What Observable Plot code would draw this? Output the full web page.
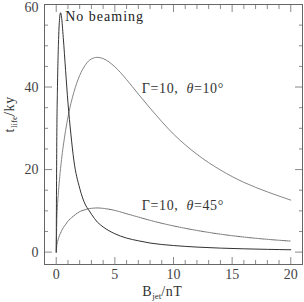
<!DOCTYPE html>
<html><head><meta charset="utf-8">
<script src="https://cdn.jsdelivr.net/npm/d3@7"></script>
<script src="https://cdn.jsdelivr.net/npm/@observablehq/plot@0.6"></script>
<style>body{margin:0;background:#fff} svg{display:block} svg, svg text, svg tspan {font-family: "Liberation Serif", "DejaVu Serif", serif !important;}</style>
</head><body><div id="chart"></div>
<script>
// Magnetic field B_jet (nT)
const B        = [0, 0.05, 0.1, 0.2, 0.3, 0.37, 0.45, 0.6, 0.8, 1.0, 1.25, 1.5, 2, 2.5, 2.75, 3, 3.5, 4, 5, 6, 7, 8, 10, 12, 14, 16, 18, 20];
// Lifetimes (ky)
const tNoBeam  = [0, 28, 39, 51.5, 57, 58, 57, 52, 44, 36.2, 28.6, 22.3, 15.5, 11.4, 10.3, 9.2, 7.3, 6.1, 4.45, 3.4, 2.75, 2.2, 1.6, 1.22, 0.97, 0.8, 0.67, 0.57];
const tTheta10 = [0, 7.5, 10.8, 15.0, 18.3, 20.3, 22.4, 25.7, 29.5, 32.7, 36.0, 38.7, 42.8, 45.4, 46.3, 46.8, 47.2, 46.9, 44.9, 41.8, 38.3, 34.9, 28.6, 23.7, 19.9, 16.9, 14.6, 12.6];
const tTheta45 = [0, 1.7, 2.4, 3.4, 4.2, 4.6, 5.1, 5.9, 6.7, 7.5, 8.2, 8.8, 9.8, 10.3, 10.5, 10.6, 10.7, 10.6, 10.1, 9.3, 8.5, 7.7, 6.35, 5.25, 4.35, 3.65, 3.1, 2.67];
const xMajor = [0, 5, 10, 15, 20];
const xMinor = [1, 2, 3, 4, 6, 7, 8, 9, 11, 12, 13, 14, 16, 17, 18, 19];
const yMajor = [0, 20, 40, 60];
const yMinor = [5, 10, 15, 25, 30, 35, 45, 50, 55];

const data = B.map((b, i) => ({b, t0: tNoBeam[i], t10: tTheta10[i], t45: tTheta45[i]}));
const ff = "'Liberation Serif', 'DejaVu Serif', serif";
const tickCol = "#8a8a8a";
const empty = () => "";

const plot = Plot.plot({
  width: 304, height: 302,
  marginLeft: 44, marginRight: 2, marginTop: 4, marginBottom: 38,
  x: {domain: [-1, 21]},
  y: {domain: [-3, 60]},
  style: {fontFamily: ff, fontSize: "14px", color: "#333", background: "#fff"},
  marks: [
    Plot.axisX(xMajor, {anchor: "bottom", tickSize: -7, tickFormat: empty, label: null, stroke: tickCol}),
    Plot.axisX(xMinor, {anchor: "bottom", tickSize: -4, tickFormat: empty, label: null, stroke: tickCol}),
    Plot.axisX(xMajor, {anchor: "top", tickSize: -7, tickFormat: empty, label: null, stroke: tickCol}),
    Plot.axisX(xMinor, {anchor: "top", tickSize: -4, tickFormat: empty, label: null, stroke: tickCol}),
    Plot.axisY(yMajor, {anchor: "left", tickSize: -8, tickFormat: empty, label: null, stroke: tickCol}),
    Plot.axisY(yMinor, {anchor: "left", tickSize: -4, tickFormat: empty, label: null, stroke: tickCol}),
    Plot.axisY(yMajor, {anchor: "right", tickSize: -8, tickFormat: empty, label: null, stroke: tickCol}),
    Plot.axisY(yMinor, {anchor: "right", tickSize: -4, tickFormat: empty, label: null, stroke: tickCol}),
    Plot.axisX(xMajor, {anchor: "bottom", tickSize: 0, tickPadding: 5, label: null, fontSize: 14, fill: "#444"}),
    Plot.axisY(yMajor.slice(0, 3), {anchor: "left", tickSize: 0, tickPadding: 6, label: null, fontSize: 14, fill: "#444"}),
    Plot.axisY(yMajor.slice(3), {anchor: "left", tickSize: 0, tickPadding: 6, dy: 3.5, label: null, fontSize: 14, fill: "#444"}),
    Plot.frame({stroke: "#666"}),
    Plot.line(data, {x: "b", y: "t10", stroke: "#777", strokeWidth: 0.9, curve: "monotone-x"}),
    Plot.line(data, {x: "b", y: "t45", stroke: "#555", strokeWidth: 0.9, strokeDasharray: "1.2,1", curve: "monotone-x"}),
    Plot.line(data, {x: "b", y: "t0", stroke: "#333", strokeWidth: 1, curve: "monotone-x"}),
    Plot.text(["No beaming"], {x: 0.77, y: 57.2, textAnchor: "start", fontSize: 14, fill: "#222"}),
    Plot.text(["G10"], {x: 7.3, y: 39.7, textAnchor: "start", fontSize: 14, fill: "#333"}),
    Plot.text(["G45"], {x: 7.3, y: 11.2, textAnchor: "start", fontSize: 14, fill: "#333"}),
    Plot.text(["XLBL"], {x: 9.05, frameAnchor: "bottom", dy: 31, fontSize: 14, fill: "#333"}),
    Plot.text(["YLBL"], {y: 29, frameAnchor: "left", dx: -35, rotate: -90, fontSize: 14, fill: "#333"})
  ]
});

function rebuild(el, parts) {
  el.textContent = "";
  el.style.whiteSpace = "pre";
  for (const p of parts) {
    const ts = document.createElementNS("http://www.w3.org/2000/svg", "tspan");
    ts.textContent = p.t;
    if (p.italic) ts.setAttribute("font-style", "italic");
    if (p.size) ts.setAttribute("font-size", p.size);
    if (p.dy) ts.setAttribute("dy", p.dy);
    ts.setAttribute("letter-spacing", p.ls || "0.6");
    el.appendChild(ts);
  }
}
d3.select(plot).selectAll("text").each(function () {
  const s = this.textContent;
  if (s === "No beaming") { this.setAttribute("letter-spacing", "1"); }
  else if (s === "G10" || s === "G45") {
    const a = s === "G10" ? "10" : "45";
    rebuild(this, [{t: "Γ=10,  "}, {t: "θ", italic: true}, {t: "=" + a + "°"}]);
  } else if (s === "XLBL") {
    rebuild(this, [{t: "B"}, {t: "jet", size: 9, dy: 3, ls: "0"}, {t: "/nT", dy: -3}]);
  } else if (s === "YLBL") {
    rebuild(this, [{t: "t"}, {t: "life", size: 9, dy: 3, ls: "0"}, {t: "/ky", dy: -3}]);
  }
});
document.getElementById("chart").appendChild(plot);
</script></body></html>
